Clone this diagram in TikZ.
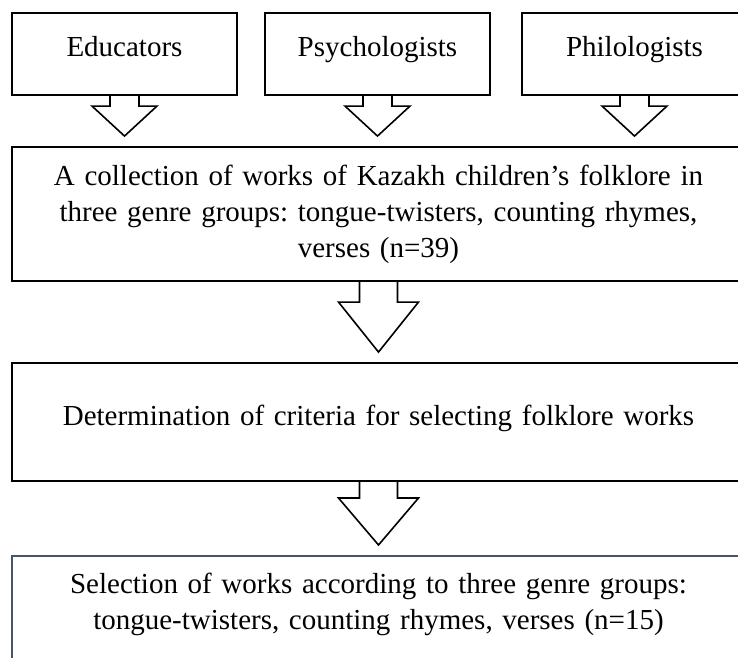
\documentclass[tikz,border=0pt]{standalone}
\usepackage{fontspec}
\setmainfont{Liberation Serif}
\usetikzlibrary{calc}
\definecolor{slate}{RGB}{68,84,106}
\frenchspacing
\tikzset{
  topbox/.style={draw, line width=1.9pt, minimum width=225pt, minimum height=82pt,
    text height=20pt, text depth=16pt, inner sep=0pt},
  bigbox/.style={draw, line width=1.9pt, minimum width=733pt, text width=725pt,
    align=center, inner xsep=4pt},
  arrowline/.style={line width=1.6pt, line join=miter}
}
% Blockpfeil: Start, Zielknoten, halbe Schaftbreite, halbe Spitzenbreite, Spitzenlaenge
\newcommand{\bigarrow}[5]{%
  \draw[arrowline] let \p1=(#1), \p2=(#2.north) in
    (\x1-#3,\y1) -- (\x1-#3,\y2+10pt+#5) -- (\x1-#4,\y2+10pt+#5) -- (\x1,\y2+10pt)
    -- (\x1+#4,\y2+10pt+#5) -- (\x1+#3,\y2+10pt+#5) -- (\x1+#3,\y1);
}
\begin{document}
\begin{tikzpicture}[x=1pt, y=-1pt, font=\fontsize{29}{36}\selectfont]
  \useasboundingbox (0,0) rectangle (738,657);
  \clip (0,0) rectangle (738,657);
  % Expertengruppen
  \foreach \grp/\x/\txt in {edu/124.5/Educators, psy/377.5/Psychologists, phil/634.5/Philologists}
    \node[topbox] (\grp) at (\x,54) {\txt};
  % Sammlung
  \node[bigbox, minimum height=134pt] (coll) at (378.5,214)
    {A collection of works of Kazakh children’s folklore in\\
     three genre groups: tongue-twisters, counting rhymes,\\
     verses (n=39)};
  % Kriterien
  \node[bigbox, minimum height=118pt, text height=20pt, text depth=14pt] (crit) at (378.5,422)
    {Determination of criteria for selecting folklore works};
  % Auswahl
  \node[bigbox, draw=slate, anchor=north, inner ysep=18pt, text height=20pt, text depth=150pt]
    (sel) at (378.5,555)
    {Selection of works according to three genre groups:\\
     tongue-twisters, counting rhymes, verses (n=15)};
  % Pfeile
  \foreach \grp in {edu,psy,phil}
    {\bigarrow{\grp.south}{coll}{14.5pt}{32.5pt}{30pt}}
  \bigarrow{coll.south}{crit}{19pt}{40pt}{50pt}
  \bigarrow{crit.south}{sel}{19pt}{40pt}{47pt}
\end{tikzpicture}
\end{document}
